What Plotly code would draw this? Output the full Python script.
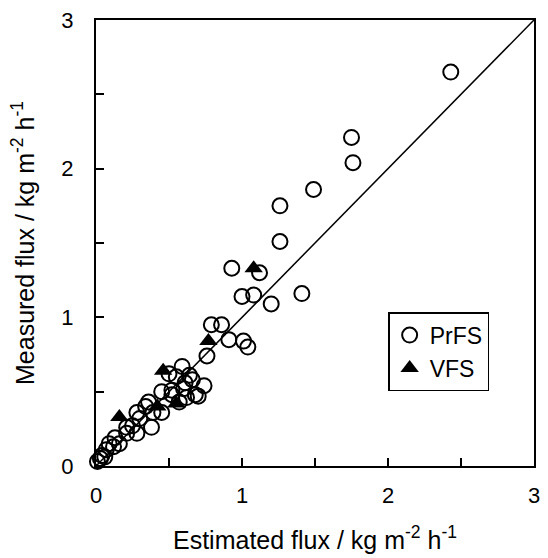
import plotly.graph_objects as go

# PrFS (open circles)
prfs_est = [2.43, 1.75, 1.76, 1.49, 1.26, 1.26, 1.41, 1.20, 0.93, 1.12, 1.00, 1.08,
            0.79, 0.86, 0.91, 1.01, 1.04, 0.76, 0.59, 0.55, 0.64, 0.66, 0.74, 0.61,
            0.45, 0.52, 0.68, 0.60, 0.50, 0.52, 0.36, 0.34, 0.39, 0.45, 0.28, 0.30,
            0.38, 0.25, 0.21, 0.28, 0.13, 0.16, 0.09, 0.07, 0.04, 0.01, 0.03, 0.06,
            0.12, 0.21, 0.57, 0.62, 0.70]
prfs_meas = [2.65, 2.21, 2.04, 1.86, 1.75, 1.51, 1.16, 1.09, 1.33, 1.30, 1.14, 1.15,
             0.95, 0.95, 0.85, 0.84, 0.80, 0.74, 0.67, 0.60, 0.61, 0.58, 0.54, 0.56,
             0.50, 0.48, 0.48, 0.52, 0.62, 0.51, 0.43, 0.40, 0.36, 0.36, 0.36, 0.32,
             0.26, 0.27, 0.22, 0.22, 0.19, 0.15, 0.15, 0.11, 0.07, 0.03, 0.05, 0.06,
             0.13, 0.26, 0.43, 0.46, 0.47]

# VFS (filled triangles)
vfs_est = [1.08, 0.77, 0.46, 0.42, 0.55, 0.16]
vfs_meas = [1.33, 0.84, 0.64, 0.40, 0.42, 0.33]

line_x = [0, 3]
line_y = [0, 3]

tick_vals = [0, 0.5, 1, 1.5, 2, 2.5, 3]
tick_text = ["0", "", "1", "", "2", "", "3"]

FONT = "Liberation Sans, Arial, sans-serif"

fig = go.Figure()
fig.add_trace(go.Scatter(x=line_x, y=line_y, mode="lines",
                         line=dict(color="black", width=1.5),
                         showlegend=False, hoverinfo="skip"))
fig.add_trace(go.Scatter(x=prfs_est, y=prfs_meas, mode="markers", name="PrFS",
                         marker=dict(symbol="circle-open", size=15, color="black",
                                     line=dict(width=2, color="black")),
                         cliponaxis=False))
fig.add_trace(go.Scatter(x=vfs_est, y=vfs_meas, mode="markers", name="VFS",
                         marker=dict(symbol="triangle-up", size=16, color="black"),
                         cliponaxis=False))

axis_common = dict(range=[0, 3], tickvals=tick_vals, ticktext=tick_text,
                   ticks="inside", ticklen=8, tickwidth=1.5, tickcolor="black",
                   showline=True, linecolor="black", linewidth=2, mirror=True,
                   showgrid=False, zeroline=False,
                   tickfont=dict(family=FONT, size=22, color="black"))

fig.update_layout(
    width=548, height=558,
    margin=dict(l=96, r=8, t=20, b=92),
    paper_bgcolor="white", plot_bgcolor="white",
    font=dict(family=FONT, color="black"),
    xaxis=dict(**axis_common, ticklabelstandoff=9,
               title=dict(text="Estimated flux / kg m<sup>-2</sup> h<sup>-1</sup>",
                          font=dict(family=FONT, size=25, color="black"), standoff=24)),
    yaxis=dict(**axis_common, ticklabelstandoff=16,
               title=dict(text="Measured flux / kg m<sup>-2</sup> h<sup>-1</sup>",
                          font=dict(family=FONT, size=25, color="black"), standoff=20)),
    legend=dict(x=0.667, y=0.345, xanchor="left", yanchor="top",
                bordercolor="black", borderwidth=1.5, bgcolor="white",
                font=dict(family=FONT, size=23, color="black"),
                itemwidth=30, tracegroupgap=0),
)

fig.write_html("out.html")
